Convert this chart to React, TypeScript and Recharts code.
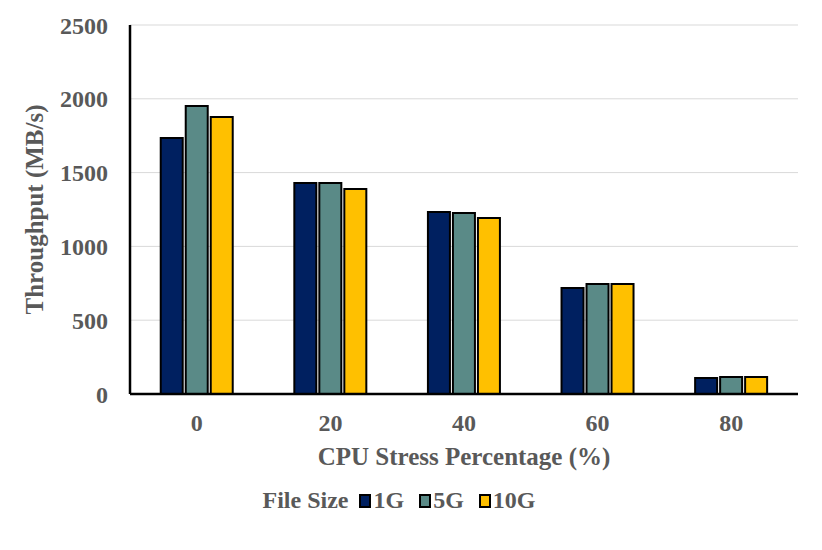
import React from 'react';
import { BarChart, Bar, XAxis, YAxis, CartesianGrid, Legend } from 'recharts';

const categories = ['0', '20', '40', '60', '80'];
const series1G = [1734, 1430, 1233, 718, 108];
const series5G = [1951, 1430, 1226, 745, 115];
const series10G = [1877, 1389, 1192, 745, 115];
const yTicks = [0, 500, 1000, 1500, 2000, 2500];

const data = categories.map((c, i) => ({
  cat: c,
  g1: series1G[i],
  g5: series5G[i],
  g10: series10G[i],
}));

const FONT = '"Liberation Serif", "Times New Roman", serif';
const TXT = '#595959';

const legendItems = [
  { name: '1G', color: '#002060' },
  { name: '5G', color: '#5A8A87' },
  { name: '10G', color: '#FFC000' },
];

const LegendContent = () => (
  <div
    style={{
      display: 'flex',
      alignItems: 'center',
      justifyContent: 'center',
      fontFamily: FONT,
      fontWeight: 'bold',
      fontSize: 24,
      color: TXT,
      marginLeft: 0,
      marginTop: 3,
    }}
  >
    <span style={{ marginRight: 11 }}>File Size</span>
    {legendItems.map((it, i) => (
      <span
        key={it.name}
        style={{ display: 'inline-flex', alignItems: 'center', marginRight: i < legendItems.length - 1 ? 15 : 0 }}
      >
        <span
          style={{
            display: 'inline-block',
            width: 8,
            height: 10,
            background: it.color,
            border: '2px solid #000',
            marginRight: 2,
          }}
        />
        {it.name}
      </span>
    ))}
  </div>
);

export default function App() {
  return (
    <div style={{ position: 'absolute', left: 0, top: 0, width: 822, height: 550, background: '#fff' }}>
      <BarChart
        width={822}
        height={550}
        data={data}
        margin={{ top: 25, right: 24, left: 0, bottom: 16 }}
        barCategoryGap="23%"
        barGap={3}
      >
        <CartesianGrid vertical={false} stroke="#d9d9d9" strokeWidth={1} />
        <XAxis
          dataKey="cat"
          axisLine={{ stroke: '#000', strokeWidth: 2.5 }}
          tickLine={false}
          tick={{ fill: TXT, fontFamily: FONT, fontWeight: 'bold', fontSize: 24 }}
          tickMargin={14}
          height={90}
          label={{
            value: 'CPU Stress Percentage (%)',
            position: 'insideTop',
            offset: 53,
            fill: TXT,
            fontFamily: FONT,
            fontWeight: 'bold',
            fontSize: 25,
          }}
        />
        <YAxis
          domain={[0, 2500]}
          ticks={yTicks}
          axisLine={{ stroke: '#000', strokeWidth: 2.5 }}
          tickLine={false}
          tick={{ fill: TXT, fontFamily: FONT, fontWeight: 'bold', fontSize: 24 }}
          tickMargin={16}
          width={130}
          label={{
            value: 'Throughput (MB/s)',
            angle: -90,
            position: 'insideLeft',
            offset: 34,
            style: { textAnchor: 'middle' },
            fill: TXT,
            fontFamily: FONT,
            fontWeight: 'bold',
            fontSize: 25,
          }}
        />
        <Legend verticalAlign="bottom" height={50} content={<LegendContent />} />
        <Bar dataKey="g1" name="1G" fill="#002060" stroke="#000" strokeWidth={2} isAnimationActive={false} />
        <Bar dataKey="g5" name="5G" fill="#5A8A87" stroke="#000" strokeWidth={2} isAnimationActive={false} />
        <Bar dataKey="g10" name="10G" fill="#FFC000" stroke="#000" strokeWidth={2} isAnimationActive={false} />
      </BarChart>
    </div>
  );
}
